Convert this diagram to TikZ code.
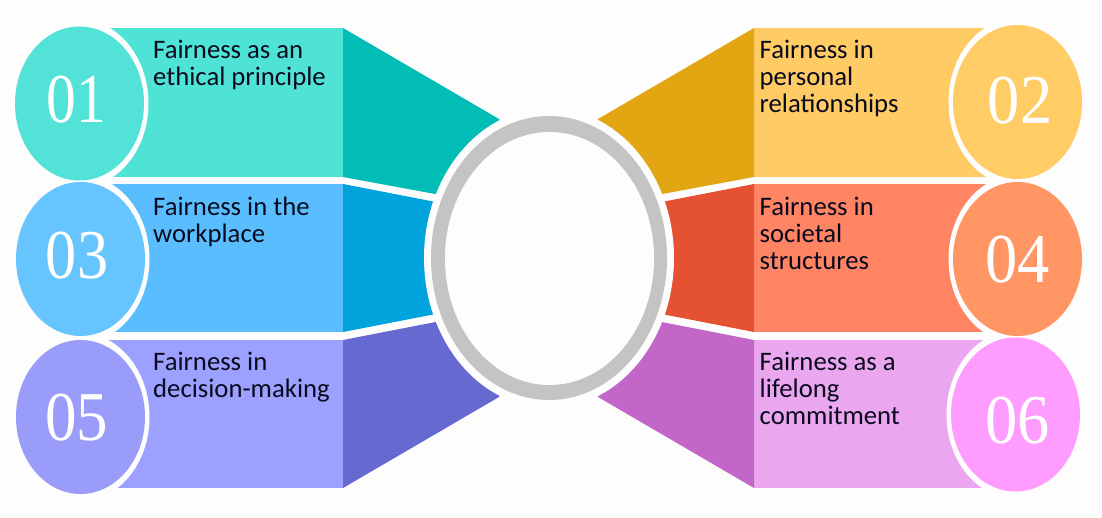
\documentclass[tikz,border=0pt]{standalone}
\usepackage{fontspec}
\usetikzlibrary{shapes.geometric}
\setmainfont{Carlito}
\newfontfamily\numfont{Liberation Serif}
\definecolor{pagebg}{HTML}{FDFDFD}
\definecolor{ringgray}{HTML}{C4C4C4}
\definecolor{inktext}{HTML}{0A0A1E}
\definecolor{aL}{HTML}{4FE3D6}\definecolor{aC}{HTML}{52E2D8}\definecolor{aD}{HTML}{02BDB6}
\definecolor{bL}{HTML}{FFCB64}\definecolor{bC}{HTML}{FFCC66}\definecolor{bD}{HTML}{E2A612}
\definecolor{cL}{HTML}{5ABEFE}\definecolor{cC}{HTML}{66C4FF}\definecolor{cD}{HTML}{00A3DC}
\definecolor{dL}{HTML}{FF8464}\definecolor{dC}{HTML}{FF9664}\definecolor{dD}{HTML}{E55232}
\definecolor{eL}{HTML}{9CA0FF}\definecolor{eC}{HTML}{9A9CFA}\definecolor{eD}{HTML}{6669CF}
\definecolor{fL}{HTML}{EBA6F0}\definecolor{fC}{HTML}{FF9CFF}\definecolor{fD}{HTML}{C267C8}
\tikzset{
  badge/.style={ellipse,inner sep=0pt,minimum width=129pt,minimum height=154pt},
  halo/.style={ellipse,fill=pagebg,inner sep=0pt,minimum width=138pt,minimum height=168pt},
  numeral/.style={text=white,inner sep=0pt,font=\numfont\fontsize{70}{70}\selectfont},
  caption/.style={anchor=north west,align=left,inner sep=0pt,text=inktext,font=\fontsize{26.7}{26.8}\selectfont},
}
\begin{document}
\begin{tikzpicture}[x=1pt,y=-1pt]
\useasboundingbox (0,0) rectangle (1102,518);
\fill[pagebg] (0,0) rectangle (1102,518);
% left bands
\fill[aL] (100,28) rectangle (343,177);
\fill[cL] (100,184) rectangle (343,332);
\fill[eL] (100,340) rectangle (343,488);
\fill[aD] (343,28) -- (499,119) -- (549,215) -- (343,177) -- cycle;
\fill[cD] (343,184) -- (549,224) -- (549,292) -- (343,332) -- cycle;
\fill[eD] (343,340) -- (549,300) -- (499,397) -- (343,488) -- cycle;
% right bands
\fill[bL] (754,28) rectangle (1000,177);
\fill[dL] (754,184) rectangle (1000,332);
\fill[fL] (754,340) rectangle (1000,488);
\fill[bD] (754,28) -- (598,119) -- (549,215) -- (754,177) -- cycle;
\fill[dD] (754,184) -- (549,224) -- (549,292) -- (754,332) -- cycle;
\fill[fD] (754,340) -- (549,300) -- (598,397) -- (754,488) -- cycle;
% centre
\node[name=ringhalo,ellipse,fill=pagebg,inner sep=0pt,minimum width=250pt,minimum height=300pt] at (549,258) {};
\node[name=ring,ellipse,fill=ringgray,inner sep=0pt,minimum width=236pt,minimum height=284pt] at (549,258) {};
\node[name=ringhole,ellipse,fill=pagebg,inner sep=0pt,minimum width=209pt,minimum height=253pt] at (549.5,258.5) {};
% badges left
\node[halo,name=h1] at (79.5,103.5) {};
\node[halo,name=h3] at (80.5,259) {};
\node[halo,name=h5] at (80.5,417) {};
\node[badge,fill=aC,name=b1] at (79.5,103.5) {};
\node[badge,fill=cC,name=b3] at (80.5,259) {};
\node[badge,fill=eC,name=b5] at (80.5,417) {};
% badges right
\node[halo,name=h2] at (1017.5,102) {};
\node[halo,name=h4] at (1017.5,259) {};
\node[halo,name=h6] at (1015.5,414.5) {};
\node[badge,fill=bC,name=b2] at (1017.5,102) {};
\node[badge,fill=dC,name=b4] at (1017.5,259) {};
\node[badge,fill=fC,name=b6] at (1015.5,414.5) {};
% numerals
\node[numeral,xscale=.85,name=n1] at (76.5,100) {01};
\node[numeral,xscale=.92,name=n2] at (1020,101) {02};
\node[numeral,xscale=.89,name=n3] at (77,255.5) {03};
\node[numeral,xscale=.92,name=n4] at (1017.5,260) {04};
\node[numeral,xscale=.90,name=n5] at (76.5,418) {05};
\node[numeral,xscale=.92,name=n6] at (1017.5,420.5) {06};
% captions
\node[caption,name=t1] at (153,40) {Fairness as an\\ethical principle};
\node[caption,name=t2] at (759.5,40) {Fairness in\\personal\\relationships};
\node[caption,name=t3] at (153,197) {Fairness in the\\workplace};
\node[caption,name=t4] at (759.5,197) {Fairness in\\societal\\structures};
\node[caption,name=t5] at (153,352) {Fairness in\\decision-making};
\node[caption,name=t6] at (759.5,352) {Fairness as a\\lifelong\\commitment};
\end{tikzpicture}
\end{document}
